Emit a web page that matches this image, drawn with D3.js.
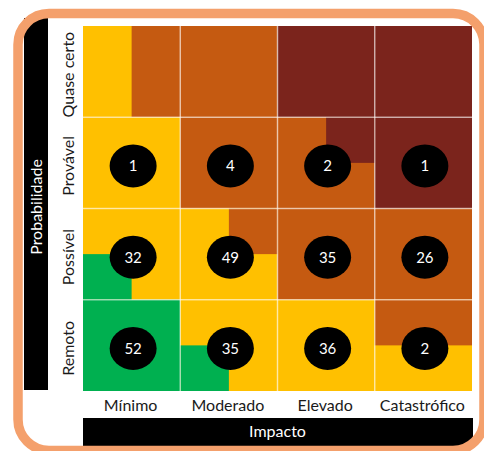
<!DOCTYPE html>
<html>
<head>
<meta charset="utf-8">
<script src="https://cdn.jsdelivr.net/npm/d3@7"></script>
<style>
  html, body { margin: 0; padding: 0; background: #ffffff; }
  svg { display: block; }
</style>
</head>
<body>
<svg id="chart" width="484" height="451"></svg>
<script>
// ---- Data ----
const impacto = ["Mínimo", "Moderado", "Elevado", "Catastrófico"];
const probabilidade = ["Quase certo", "Provável", "Possível", "Remoto"];

// number of risks per cell (null = no bubble)
const riscosQuaseCerto = [null, null, null, null];
const riscosProvavel   = [1, 4, 2, 1];
const riscosPossivel   = [32, 49, 35, 26];
const riscosRemoto     = [52, 35, 36, 2];

// base risk level of each cell
const nivelQuaseCerto = ["alto", "alto", "extremo", "extremo"];
const nivelProvavel   = ["medio", "alto", "alto", "extremo"];
const nivelPossivel   = ["medio", "medio", "alto", "alto"];
const nivelRemoto     = ["baixo", "medio", "medio", "medio"];

// partial zones inside cells: [probabilidade, impacto, part, level]
const zonas = [
  ["Quase certo", "Mínimo", "esquerda", "medio"],
  ["Provável", "Elevado", "superior-direita", "extremo"],
  ["Possível", "Mínimo", "inferior-esquerda", "baixo"],
  ["Possível", "Moderado", "superior-direita", "alto"],
  ["Remoto", "Moderado", "inferior-esquerda", "baixo"],
  ["Remoto", "Catastrófico", "superior", "alto"]
];

const cores = {
  baixo: "#00B050",
  medio: "#FFC000",
  alto: "#C55A11",
  extremo: "#7B241C"
};

const riscos = [riscosQuaseCerto, riscosProvavel, riscosPossivel, riscosRemoto];
const niveis = [nivelQuaseCerto, nivelProvavel, nivelPossivel, nivelRemoto];

// ---- Drawing ----
const svg = d3.select("#chart");
const font = "Lato, 'Open Sans', sans-serif";

const x = d3.scaleBand().domain(impacto).range([83, 472]).padding(0);
const y = d3.scaleBand().domain(probabilidade).range([26, 391]).padding(0);

// white background inside frame
const frame = { x: 18, y: 13.5, w: 466, h: 437, r: 31 };
svg.append("rect")
  .attr("x", frame.x).attr("y", frame.y)
  .attr("width", frame.w).attr("height", frame.h)
  .attr("rx", frame.r).attr("ry", frame.r)
  .attr("fill", "#ffffff");

// black title bars
svg.append("rect")
  .attr("x", 24).attr("y", 18)
  .attr("width", 24).attr("height", 372)
  .attr("fill", "#000000");
svg.append("rect")
  .attr("x", x.range()[0]).attr("y", 418)
  .attr("width", x.range()[1] - x.range()[0] + 1).attr("height", 28)
  .attr("fill", "#000000");

// cells
const cells = [];
probabilidade.forEach((p, i) => {
  impacto.forEach((im, j) => {
    cells.push({ p, im, nivel: niveis[i][j], n: riscos[i][j] });
  });
});

svg.append("g").selectAll("rect")
  .data(cells)
  .join("rect")
  .attr("x", d => x(d.im))
  .attr("y", d => y(d.p))
  .attr("width", x.bandwidth())
  .attr("height", y.bandwidth())
  .attr("fill", d => cores[d.nivel]);

// partial zones
function zoneRect(z) {
  const [p, im, part] = z;
  const x0 = x(im), y0 = y(p), w = x.bandwidth(), h = y.bandwidth();
  switch (part) {
    case "esquerda": return [x0, y0, w / 2, h];
    case "superior": return [x0, y0, w, h / 2];
    case "superior-direita": return [x0 + w / 2, y0, w / 2, h / 2];
    case "inferior-esquerda": return [x0, y0 + h / 2, w / 2, h / 2];
  }
}
svg.append("g").selectAll("rect")
  .data(zonas)
  .join("rect")
  .attr("x", d => zoneRect(d)[0])
  .attr("y", d => zoneRect(d)[1])
  .attr("width", d => zoneRect(d)[2])
  .attr("height", d => zoneRect(d)[3])
  .attr("fill", d => cores[d[3]]);

// grid lines
const grid = svg.append("g")
  .attr("stroke", "#ffffff")
  .attr("stroke-opacity", 0.55)
  .attr("stroke-width", 1.5);
impacto.slice(1).forEach(im => {
  grid.append("line")
    .attr("x1", x(im)).attr("x2", x(im))
    .attr("y1", y.range()[0]).attr("y2", y.range()[1]);
});
probabilidade.slice(1).forEach(p => {
  grid.append("line")
    .attr("x1", x.range()[0]).attr("x2", x.range()[1])
    .attr("y1", y(p)).attr("y2", y(p));
});

// bubbles
const bolhas = svg.append("g").selectAll("g")
  .data(cells.filter(d => d.n !== null))
  .join("g")
  .attr("transform", d => `translate(${x(d.im) + x.bandwidth() / 2 + 1.5},${y(d.p) + y.bandwidth() / 2 + 3})`);
bolhas.append("ellipse")
  .attr("rx", 23.5).attr("ry", 21.5)
  .attr("fill", "#000000");
bolhas.append("text")
  .attr("text-anchor", "middle")
  .attr("dy", "0.36em")
  .attr("fill", "#ffffff")
  .attr("font-family", font)
  .attr("font-size", 15)
  .text(d => d.n);

// column labels (impacto)
svg.append("g").selectAll("text")
  .data(impacto)
  .join("text")
  .attr("x", d => x(d) + x.bandwidth() / 2 - 1)
  .attr("y", 411)
  .attr("text-anchor", "middle")
  .attr("font-family", font)
  .attr("font-size", 16)
  .attr("fill", "#1a1a1a")
  .text(d => d);

// row labels (probabilidade)
svg.append("g").selectAll("text")
  .data(probabilidade)
  .join("text")
  .attr("transform", d => `translate(74,${y(d) + y.bandwidth() / 2 + 3}) rotate(-90)`)
  .attr("text-anchor", "middle")
  .attr("font-family", font)
  .attr("font-size", 16)
  .attr("fill", "#1a1a1a")
  .text(d => d);

// axis titles
svg.append("text")
  .attr("x", (x.range()[0] + x.range()[1]) / 2)
  .attr("y", 437)
  .attr("text-anchor", "middle")
  .attr("font-family", font)
  .attr("font-size", 16)
  .attr("fill", "#ffffff")
  .text("Impacto");

svg.append("text")
  .attr("transform", `translate(42,${(24 + 390) / 2}) rotate(-90)`)
  .attr("text-anchor", "middle")
  .attr("font-family", font)
  .attr("font-size", 16)
  .attr("fill", "#ffffff")
  .text("Probabilidade");

// orange rounded frame on top
svg.append("rect")
  .attr("x", frame.x).attr("y", frame.y)
  .attr("width", frame.w).attr("height", frame.h)
  .attr("rx", frame.r).attr("ry", frame.r)
  .attr("fill", "none")
  .attr("stroke", "#F4A06C")
  .attr("stroke-width", 9.5);
</script>
</body>
</html>
